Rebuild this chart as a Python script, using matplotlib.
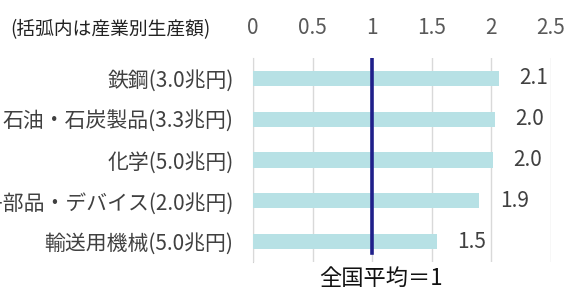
import matplotlib
matplotlib.use("Agg")
import matplotlib.pyplot as plt

plt.rcParams['font.family'] = ['Noto Sans CJK JP', 'DejaVu Sans']

categories = ["鉄鋼(3.0兆円)", "石油・石炭製品(3.3兆円)", "化学(5.0兆円)",
              "電子部品・デバイス(2.0兆円)", "輸送用機械(5.0兆円)"]
values = [2.06, 2.03, 2.01, 1.90, 1.54]
value_labels = ["2.1", "2.0", "2.0", "1.9", "1.5"]
xticks = [0, 0.5, 1, 1.5, 2, 2.5]
xticklabels = ["0", "0.5", "1", "1.5", "2", "2.5"]
national_avg = 1

W, H = 570, 291
fig = plt.figure(figsize=(W/100, H/100), dpi=100)
ax = fig.add_axes([253/W, 1-262/H, (551-253)/W, (262-58)/H])

y = list(range(len(categories)))
ax.barh(y, values, height=0.37, color="#b7e1e5", zorder=2)
ax.set_ylim(4.5, -0.5)
ax.set_xlim(0, 2.5)

ax.axvline(national_avg, ymin=(4.5-4.27)/5, ymax=1, color="#1f1f8a", lw=2.6, zorder=3)

for yi, v, lab in zip(y, values, value_labels):
    ax.text(v + 0.17, yi, lab, va="center", ha="left", fontsize=15,
            color="#404040")

ax.xaxis.tick_top()
ax.set_xticks(xticks)
ax.set_xticklabels(xticklabels, fontsize=15, color="#595959")
ax.tick_params(axis="x", length=0, pad=14)
ax.set_yticks(y)
ax.set_yticklabels(categories, fontsize=15, color="#404040")
ax.tick_params(axis="y", length=0, pad=14)

ax.grid(axis="x", color="#d9d9d9", lw=1, zorder=0)
for s in ["top", "right", "bottom"]:
    ax.spines[s].set_visible(False)
ax.spines["left"].set_color("#d0d0d0")
ax.spines["left"].set_zorder(1)

fig.text(10/W, 1-30/H, "(括弧内は産業別生産額)", fontsize=13.5, color="#222222",
         va="center", ha="left")
fig.text(381/W, 1-278/H, "全国平均＝1", fontsize=16, color="#111111",
         va="center", ha="center")

fig.savefig("out.png", dpi=100)
